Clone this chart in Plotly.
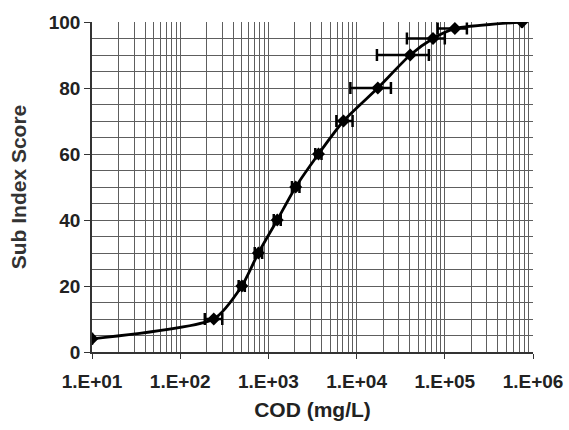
import plotly.graph_objects as go

# Data
cod = [10, 240, 500, 770, 1260, 2040, 3700, 7100, 17400, 40500, 73500, 130000, 750000]
score = [4, 10, 20, 30, 40, 50, 60, 70, 80, 90, 95, 98, 100]
cod_low = [10, 190, 460, 700, 1150, 1850, 3400, 5900, 8500, 17000, 37200, 83000, 750000]
cod_high = [10, 300, 540, 850, 1380, 2250, 4000, 9000, 24500, 66000, 100000, 178000, 750000]

x_tickvals = [10, 100, 1000, 10000, 100000, 1000000]
x_ticktext = ["1.E+01", "1.E+02", "1.E+03", "1.E+04", "1.E+05", "1.E+06"]
y_tickvals = [0, 20, 40, 60, 80, 100]

minor_x = [m * d for d in [10, 100, 1000, 10000, 100000] for m in range(2, 10)]

err_plus = [h - c for h, c in zip(cod_high, cod)]
err_minus = [c - l for c, l in zip(cod, cod_low)]

FONT = "Liberation Sans"
GRID = "#5e5e5e"

fig = go.Figure()
fig.add_trace(go.Scatter(
    x=cod, y=score,
    mode="lines+markers",
    line=dict(color="black", width=2.8, shape="spline", smoothing=0.6),
    marker=dict(symbol="diamond", size=10, color="black"),
    error_x=dict(type="data", symmetric=False, array=err_plus, arrayminus=err_minus,
                 color="black", thickness=2.5, width=6),
    showlegend=False,
))

fig.update_layout(
    width=569, height=430,
    margin=dict(l=92, r=36, t=22, b=78),
    paper_bgcolor="white", plot_bgcolor="white",
    font=dict(family=FONT, color="black"),
)
fig.update_xaxes(
    type="log", range=[1, 6], automargin=False,
    tickvals=x_tickvals, ticktext=x_ticktext,
    tickfont=dict(size=19, family=FONT, color="#222", weight="bold"),
    ticks="outside", ticklen=5, tickcolor="#333", ticklabelstandoff=6,
    showline=True, linecolor="#333", linewidth=1.5,
    showgrid=True, gridcolor=GRID, gridwidth=1.2,
    minor=dict(tickvals=minor_x, showgrid=True, gridcolor=GRID, gridwidth=1.2, ticks=""),
    title=dict(text="COD (mg/L)", font=dict(size=21, family=FONT, color="#222", weight="bold"), standoff=12),
    zeroline=False,
)
fig.update_yaxes(
    range=[0, 100], automargin=False,
    tickvals=y_tickvals,
    tickfont=dict(size=19, family=FONT, color="#222", weight="bold"),
    ticks="outside", ticklen=6, tickcolor="#333",
    showline=True, linecolor="#333", linewidth=1.5,
    showgrid=True, gridcolor=GRID, gridwidth=1.2,
    minor=dict(dtick=5, showgrid=True, gridcolor=GRID, gridwidth=1.2, ticks=""),
    title=dict(text="Sub Index Score", font=dict(size=21, family=FONT, color="#333", weight="bold"), standoff=16),
    zeroline=False,
)

fig.write_html("out.html", config={"displayModeBar": False},
               post_script="document.body.style.margin='0px';")
